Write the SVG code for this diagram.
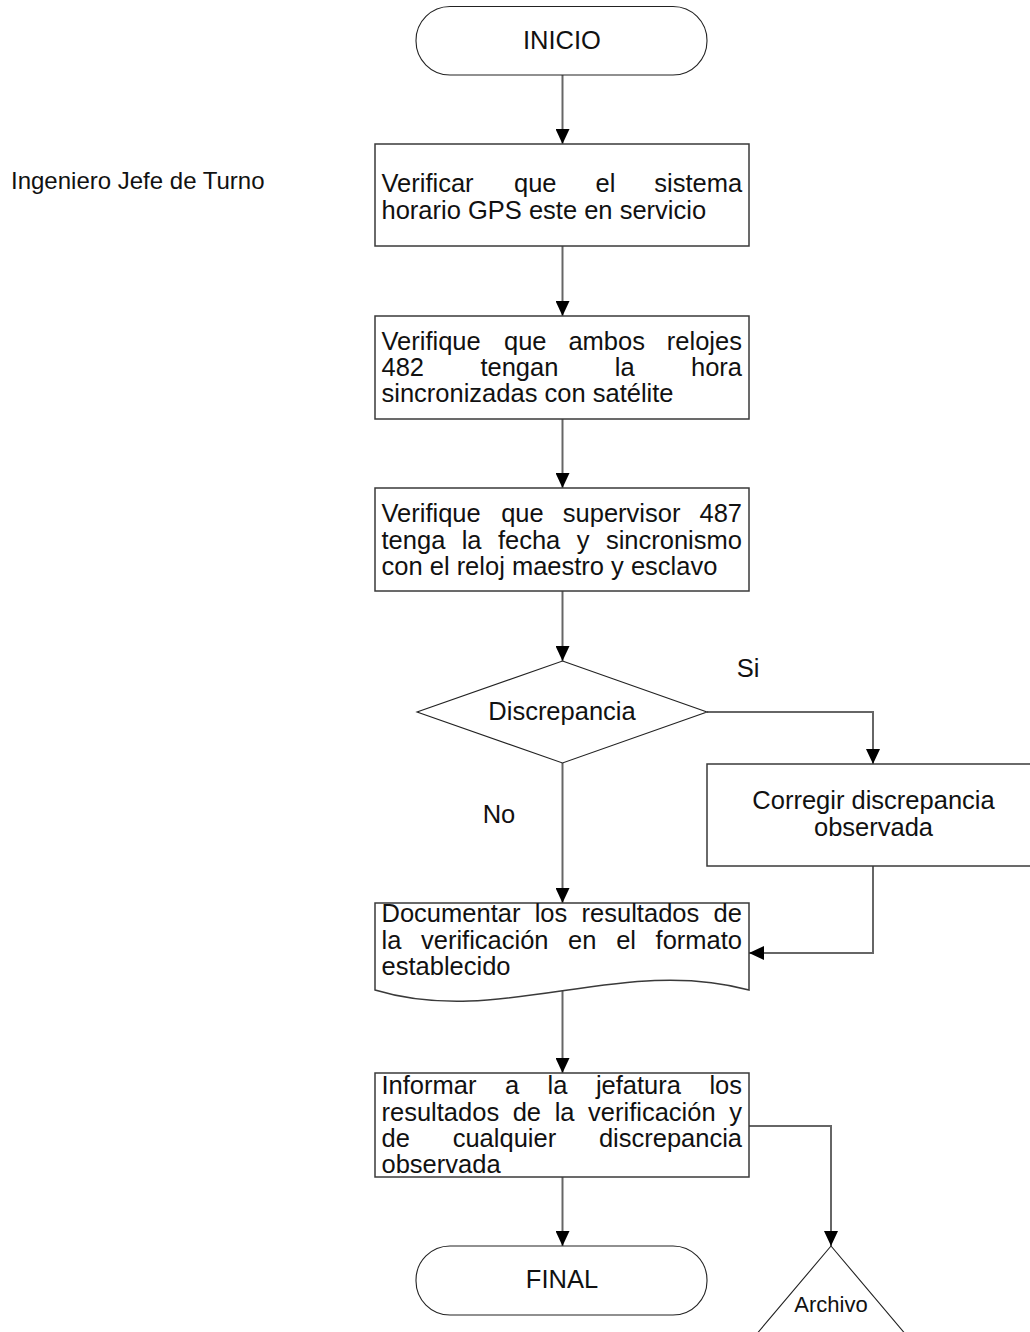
<svg xmlns="http://www.w3.org/2000/svg" width="1030" height="1332" viewBox="0 0 1030 1332">
  <style>
    text { font-family: "Liberation Sans", Arial, sans-serif; font-size: 25.5px; fill: #111; }
    .c { text-anchor: middle; }
    .box { fill: #fff; stroke: #3a3a3a; stroke-width: 1.5; }
    .thin { fill: #fff; stroke: #222; stroke-width: 1.1; }
    .link { fill: none; stroke: #666; stroke-width: 2; }
    .lbl { font-size: 24px; }
    .small { font-size: 22px; }
  </style>
  <defs>
    <marker id="arrow" markerUnits="userSpaceOnUse" markerWidth="15" markerHeight="14" refX="15" refY="7" orient="auto">
      <path d="M0,0 L15,7 L0,14 z" fill="#000"/>
    </marker>
  </defs>

  <rect width="1030" height="1332" fill="#fff"/>

  <!-- connectors -->
  <g id="connectors">
    <path class="link" d="M562.5,75 V144" marker-end="url(#arrow)"/>
    <path class="link" d="M562.5,246 V316" marker-end="url(#arrow)"/>
    <path class="link" d="M562.5,419 V488" marker-end="url(#arrow)"/>
    <path class="link" d="M562.5,591 V661" marker-end="url(#arrow)"/>
    <path class="link" d="M562.5,763 V903" marker-end="url(#arrow)"/>
    <path class="link" d="M707,712 H873 V764" marker-end="url(#arrow)"/>
    <path class="link" d="M873,866 V953 H749" marker-end="url(#arrow)"/>
    <path class="link" d="M562.5,985 V1073" marker-end="url(#arrow)"/>
    <path class="link" d="M562.5,1177 V1246" marker-end="url(#arrow)"/>
    <path class="link" d="M749,1126 H831 V1246" marker-end="url(#arrow)"/>
  </g>

  <!-- lane label -->
  <g id="role">
    <text class="lbl" x="11" y="189">Ingeniero Jefe de Turno</text>
  </g>

  <!-- start -->
  <g id="inicio">
    <rect class="thin" x="416" y="6.5" width="291" height="68.5" rx="34" ry="34"/>
    <text class="c" x="562" y="49">INICIO</text>
  </g>

  <!-- step 1 -->
  <g id="paso1">
    <rect class="box" x="375" y="144" width="374" height="102"/>
    <text y="192"><tspan x="381.5">Verificar</tspan><tspan x="514">que</tspan><tspan x="595.5">el</tspan><tspan x="654.3">sistema</tspan></text>
    <text x="381.5" y="219">horario GPS este en servicio</text>
  </g>

  <!-- step 2 -->
  <g id="paso2">
    <rect class="box" x="375" y="316" width="374" height="103"/>
    <text y="350"><tspan x="381.5">Verifique</tspan><tspan x="504">que</tspan><tspan x="568.4">ambos</tspan><tspan x="666.8">relojes</tspan></text>
    <text y="376"><tspan x="381.5">482</tspan><tspan x="480.4">tengan</tspan><tspan x="614.8">la</tspan><tspan x="691">hora</tspan></text>
    <text x="381.5" y="402">sincronizadas con satélite</text>
  </g>

  <!-- step 3 -->
  <g id="paso3">
    <rect class="box" x="375" y="488" width="374" height="103"/>
    <text y="522"><tspan x="381.5">Verifique</tspan><tspan x="501.2">que</tspan><tspan x="562.8">supervisor</tspan><tspan x="699.5">487</tspan></text>
    <text y="549"><tspan x="381.5">tenga</tspan><tspan x="461.7">la</tspan><tspan x="497.9">fecha</tspan><tspan x="576.7">y</tspan><tspan x="605.9">sincronismo</tspan></text>
    <text x="381.5" y="575">con el reloj maestro y esclavo</text>
  </g>

  <!-- decision -->
  <g id="decision">
    <polygon class="thin" points="562.5,661 707,712 562.5,763 417,712"/>
    <text class="c" x="562" y="720">Discrepancia</text>
  </g>
  <g id="etiquetas">
    <text class="c" x="748" y="677">Si</text>
    <text class="c" x="499" y="823">No</text>
  </g>

  <!-- correction -->
  <g id="corregir">
    <rect class="box" x="707" y="764" width="340" height="102"/>
    <text class="c" x="873.5" y="809">Corregir discrepancia</text>
    <text class="c" x="873.5" y="836">observada</text>
  </g>

  <!-- document -->
  <g id="documentar">
    <path class="box" d="M375,903 H749 V990 C620,955 500,1028 375,990 Z"/>
    <text y="922"><tspan x="381.5">Documentar</tspan><tspan x="534.7">los</tspan><tspan x="581.6">resultados</tspan><tspan x="713.5">de</tspan></text>
    <text y="949"><tspan x="381.5">la</tspan><tspan x="421">verificación</tspan><tspan x="568.1">en</tspan><tspan x="616.2">el</tspan><tspan x="655.6">formato</tspan></text>
    <text x="381.5" y="975">establecido</text>
  </g>

  <!-- report -->
  <g id="informar">
    <rect class="box" x="375" y="1073" width="374" height="104"/>
    <text y="1094"><tspan x="381.5">Informar</tspan><tspan x="504.9">a</tspan><tspan x="547.6">la</tspan><tspan x="595.9">jefatura</tspan><tspan x="709.4">los</tspan></text>
    <text y="1121"><tspan x="381.5">resultados</tspan><tspan x="512.7">de</tspan><tspan x="554.7">la</tspan><tspan x="588.1">verificación</tspan><tspan x="729.2">y</tspan></text>
    <text y="1147"><tspan x="381.5">de</tspan><tspan x="452.7">cualquier</tspan><tspan x="598.9">discrepancia</tspan></text>
    <text x="381.5" y="1173">observada</text>
  </g>

  <!-- end -->
  <g id="final">
    <rect class="thin" x="416" y="1246" width="291" height="69" rx="34" ry="34"/>
    <text class="c" x="562" y="1288">FINAL</text>
  </g>

  <!-- archive -->
  <g id="archivo">
    <polygon class="thin" points="831,1246 907,1336 755,1336"/>
    <text class="c small" x="831" y="1312">Archivo</text>
  </g>
</svg>
